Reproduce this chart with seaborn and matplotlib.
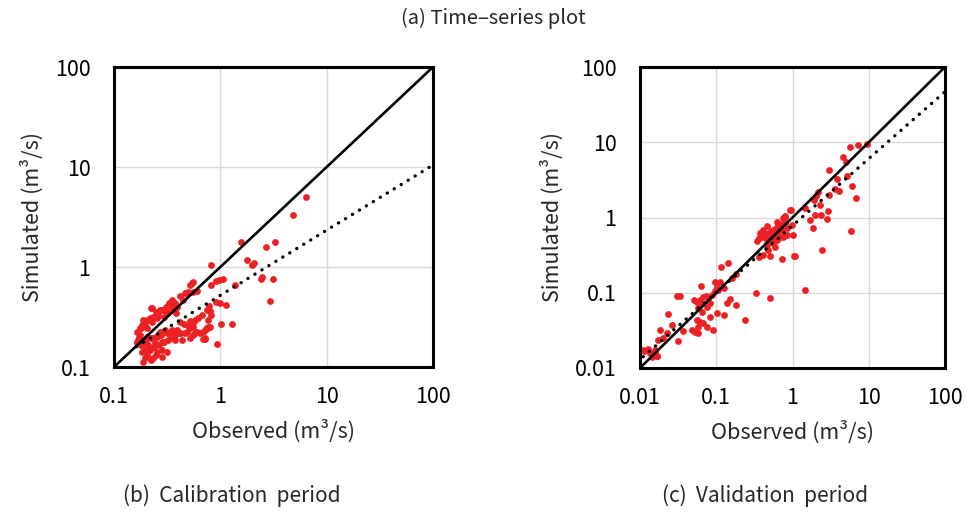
import numpy as np
import pandas as pd
import matplotlib
matplotlib.use("Agg")
import matplotlib.pyplot as plt
from matplotlib.ticker import FixedLocator, FixedFormatter, NullLocator
import seaborn as sns

# ---------------- data ----------------
calib_obs = [6.35, 4.83, 1.58, 3.29, 2.67, 1.77, 2.09, 1.97, 0.81, 2.47, 2.40, 3.16,
             1.05, 0.97, 0.91, 0.81, 1.36, 2.92, 0.91, 1.14, 0.79, 0.755, 0.80, 0.82,
             1.02, 1.28, 0.77, 0.73, 0.925, 0.71,
             0.519, 0.557, 0.50, 0.418, 0.449, 0.349, 0.336, 0.375, 0.389, 0.313, 0.349,
             0.291, 0.324, 0.271, 0.226, 0.261, 0.234, 0.218, 0.189, 0.196, 0.182, 0.176,
             0.203, 0.55, 0.60,
             0.745, 0.644, 0.600, 0.557, 0.483, 0.418, 0.375, 0.336, 0.302, 0.271, 0.252,
             0.226, 0.203, 0.189, 0.176, 0.169, 0.163, 0.182, 0.21, 0.243, 0.281, 0.324,
             0.375, 0.433, 0.519, 0.693, 0.718, 0.718, 0.612, 0.668,
             0.182, 0.196, 0.203, 0.234, 0.281, 0.218, 0.252, 0.189,
             0.42, 0.46, 0.52, 0.55,
             0.221, 0.247, 0.275, 0.306, 0.329, 0.318, 0.295, 0.256, 0.23, 0.206, 0.191,
             0.178, 0.166, 0.172, 0.166, 0.178, 0.199, 0.221, 0.247, 0.275, 0.318, 0.354,
             0.341, 0.295, 0.265, 0.238, 0.213, 0.191, 0.206, 0.221, 0.247, 0.285, 0.318,
             0.538, 0.466, 0.501, 0.772, 0.578, 0.558, 0.519, 0.483, 0.389, 0.362, 0.418,
             0.466, 0.578, 0.693, 0.745, 0.80, 0.994, 0.35, 0.37, 0.34, 0.38]
calib_sim = [5.05, 3.31, 1.77, 1.79, 1.57, 1.17, 1.10, 1.04, 1.04, 0.80, 0.76, 0.75,
             0.75, 0.74, 0.73, 0.66, 0.66, 0.457, 0.45, 0.42, 0.41, 0.37, 0.36, 0.33,
             0.27, 0.27, 0.25, 0.24, 0.17, 0.19,
             0.661, 0.567, 0.545, 0.513, 0.468, 0.468, 0.433, 0.433, 0.401, 0.395, 0.386,
             0.372, 0.358, 0.372, 0.386, 0.331, 0.319, 0.307, 0.295, 0.273, 0.263, 0.244,
             0.244, 0.70, 0.58,
             0.244, 0.217, 0.226, 0.209, 0.226, 0.217, 0.209, 0.217, 0.234, 0.226, 0.201,
             0.194, 0.201, 0.186, 0.209, 0.186, 0.172, 0.166, 0.166, 0.172, 0.179, 0.186,
             0.186, 0.186, 0.194, 0.189, 0.234, 0.194, 0.307, 0.331,
             0.142, 0.122, 0.132, 0.122, 0.127, 0.148, 0.142, 0.113,
             0.28, 0.27, 0.29, 0.25,
             0.386, 0.358, 0.372, 0.401, 0.433, 0.344, 0.319, 0.307, 0.284, 0.295, 0.263,
             0.244, 0.226, 0.201, 0.179, 0.166, 0.186, 0.194, 0.201, 0.209, 0.217, 0.234,
             0.194, 0.179, 0.166, 0.16, 0.154, 0.148, 0.132, 0.117, 0.132, 0.148, 0.142,
             0.687, 0.545, 0.567, 0.295, 0.295, 0.273, 0.244, 0.263, 0.234, 0.226, 0.217,
             0.217, 0.217, 0.226, 0.244, 0.253, 0.433, 0.44, 0.40, 0.37, 0.35]

valid_obs = [5.68, 7.30, 9.58, 4.64, 4.97, 3.04, 5.13, 3.87, 3.61, 4.03, 6.10, 6.81,
             2.16, 2.04, 1.92, 2.98, 2.30, 2.95, 2.37, 1.97, 1.70, 2.81, 1.88, 1.46,
             5.80, 2.41, 1.46, 0.946, 0.80, 0.74, 1.03, 1.06, 1.08, 0.72,
             0.459, 0.415, 0.367, 0.339, 0.406, 0.507, 0.561, 0.620, 0.721, 0.839, 0.976,
             0.798, 0.685, 0.533, 0.459, 0.561, 0.620, 0.685, 0.482, 0.415, 0.367, 0.507,
             0.589, 0.839, 0.759, 0.375,
             0.44, 0.48, 0.52, 0.58, 0.65, 0.40, 0.55, 0.47, 0.80, 0.62, 0.93,
             0.144, 0.114, 0.181, 0.159, 0.0964, 0.101, 0.126, 0.112, 0.063, 0.332, 0.507,
             0.151, 0.181, 0.137, 0.126, 0.101, 0.238, 0.0897,
             0.0303, 0.0335, 0.0511, 0.0553, 0.0612, 0.0677, 0.0734, 0.0788, 0.0871,
             0.0964, 0.106, 0.0612, 0.0749, 0.0828, 0.0582, 0.0644, 0.0553, 0.0612,
             0.0582, 0.0526, 0.0582, 0.0677, 0.0749, 0.0828, 0.0476, 0.037, 0.0236,
             0.026, 0.0183, 0.0224, 0.0202, 0.0174, 0.0318, 0.0157, 0.0122, 0.0135,
             0.0166, 0.0113, 0.011, 0.0128, 0.0142, 0.0166, 0.0157]
valid_sim = [8.57, 9.10, 9.48, 6.31, 5.52, 4.27, 3.56, 3.22, 2.36, 2.27, 2.62, 1.80,
             2.20, 1.93, 1.71, 2.0, 1.47, 1.23, 1.08, 1.08, 0.93, 0.955, 0.72, 1.33,
             0.67, 0.37, 0.109, 1.26, 1.03, 0.975, 0.59, 0.308, 0.31, 0.278,
             0.77, 0.682, 0.528, 0.492, 0.586, 0.616, 0.682, 0.755, 0.682, 0.718, 0.795,
             0.854, 0.82, 0.528, 0.431, 0.453, 0.502, 0.556, 0.37, 0.318, 0.302, 0.308,
             0.41, 0.586, 0.556, 0.616,
             0.62, 0.58, 0.66, 0.60, 0.64, 0.55, 0.50, 0.50, 1.05, 0.88, 1.26,
             0.246, 0.222, 0.178, 0.156, 0.141, 0.121, 0.115, 0.141, 0.124, 0.100, 0.086,
             0.082, 0.0687, 0.0724, 0.0506, 0.0533, 0.0435, 0.032,
             0.0914, 0.0914, 0.0802, 0.0762, 0.0802, 0.0887, 0.0905, 0.0843, 0.0934,
             0.104, 0.109, 0.0687, 0.0653, 0.0724, 0.062, 0.0561, 0.0435, 0.0413,
             0.0354, 0.0304, 0.0289, 0.0393, 0.0354, 0.0481, 0.032, 0.0313, 0.0522,
             0.0373, 0.032, 0.0289, 0.0248, 0.0235, 0.0231, 0.0174, 0.0174, 0.0157,
             0.0144, 0.017, 0.0173, 0.0177, 0.0141, 0.0144, 0.0165]

# power-law trend lines (y = a * x^b)
calib_trend = (0.52, 0.652)
valid_trend = (0.78, 0.89)

calib_ticks = [0.1, 1, 10, 100]
calib_labels = ["0.1", "1", "10", "100"]
valid_ticks = [0.01, 0.1, 1, 10, 100]
valid_labels = ["0.01", "0.1", "1", "10", "100"]

title_text = "(a) Time–series plot"
caption_b = "(b)  Calibration  period"
caption_c = "(c)  Validation  period"
xlabel_text = "Observed (m³/s)"
ylabel_text = "Simulated (m³/s)"

# ---------------- style ----------------
sns.set_style("white")
plt.rcParams["font.family"] = ["Noto Sans CJK KR", "DejaVu Sans"]

RED = "#ED2024"

fig = plt.figure(figsize=(9.71, 5.13), dpi=100)
ax1 = fig.add_axes([114 / 971, 1 - 367 / 513, 319 / 971, 300 / 513])
ax2 = fig.add_axes([640 / 971, 1 - 368 / 513, 305 / 971, 301 / 513])


def draw(ax, obs, sim, trend, ticks, labels):
    df = pd.DataFrame({"obs": obs, "sim": sim})
    lo, hi = ticks[0], ticks[-1]
    ax.set_xscale("log")
    ax.set_yscale("log")
    ax.set_xlim(lo, hi)
    ax.set_ylim(lo, hi)
    for t in ticks[1:-1]:
        ax.axvline(t, color="#d9d9d9", lw=1.0, zorder=0)
        ax.axhline(t, color="#d9d9d9", lw=1.0, zorder=0)
    sns.scatterplot(data=df, x="obs", y="sim", ax=ax, color=RED, s=24,
                    linewidth=0, zorder=3, legend=False)
    ax.plot([lo, hi], [lo, hi], color="black", lw=1.9, zorder=4,
            solid_capstyle="butt")
    a, b = trend
    xs = np.logspace(np.log10(min(obs)), np.log10(hi), 200)
    ax.plot(xs, a * xs ** b, color="black", lw=2.4, zorder=5,
            linestyle=(0, (0.05, 2.4)), dash_capstyle="round")
    ax.xaxis.set_major_locator(FixedLocator(ticks))
    ax.yaxis.set_major_locator(FixedLocator(ticks))
    ax.xaxis.set_major_formatter(FixedFormatter(labels))
    ax.yaxis.set_major_formatter(FixedFormatter(labels))
    ax.xaxis.set_minor_locator(NullLocator())
    ax.yaxis.set_minor_locator(NullLocator())
    ax.tick_params(axis="both", which="major", length=0, labelsize=15.5,
                   colors="black")
    ax.tick_params(axis="x", pad=14)
    ax.tick_params(axis="y", pad=17)
    for sp in ax.spines.values():
        sp.set_visible(True)
        sp.set_color("black")
        sp.set_linewidth(2.2)
        sp.set_zorder(6)
    ax.set_xlabel(xlabel_text, fontsize=15.5, labelpad=8)
    ax.set_ylabel(ylabel_text, fontsize=15.5, labelpad=8)
    ax.grid(False)


draw(ax1, calib_obs, calib_sim, calib_trend, calib_ticks, calib_labels)
draw(ax2, valid_obs, valid_sim, valid_trend, valid_ticks, valid_labels)

fig.text(493 / 971, 1 - 18 / 513, title_text, ha="center", va="center",
         fontsize=14.5)
fig.text(232 / 971, 1 - 496 / 513, caption_b, ha="center", va="center",
         fontsize=15)
fig.text(765 / 971, 1 - 496 / 513, caption_c, ha="center", va="center",
         fontsize=15)

fig.savefig("out.png", dpi=100)
